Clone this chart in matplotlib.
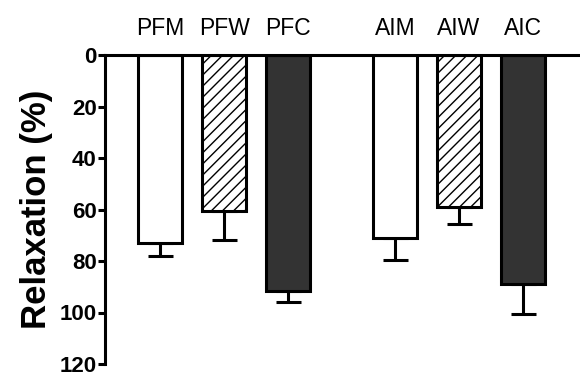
import numpy as np
import matplotlib
matplotlib.use('Agg')
from matplotlib import pyplot as plt

# relaxation values (%), downward bars with SEM
groups = ['PFM', 'PFW', 'PFC', 'AIM', 'AIW', 'AIC']
relax = [73, 60.5, 91.5, 71, 59, 89]
sem = [5, 11.5, 4.5, 8.5, 6.5, 11.5]
pos = [0, 1, 2, 3.67, 4.67, 5.67]
yticks = [0, 20, 40, 60, 80, 100, 120]

plt.rcParams['font.family'] = ['Liberation Sans', 'DejaVu Sans']
plt.rcParams['hatch.linewidth'] = 1.0

fig = plt.figure(figsize=(5.8, 3.77), dpi=100)
ax = fig.add_axes([105/580, 13/377, 475/580, 309/377])

fills = ['white', 'white', '#333333'] * 2
hatches = ['', '///', ''] * 2
for x, v, e, fc, h in zip(pos, relax, sem, fills, hatches):
    ax.bar(x, v, width=0.69, color=fc, edgecolor='black', linewidth=2.2,
           hatch=h, zorder=2)
    ax.errorbar(x, v, yerr=[[0], [e]], fmt='none', ecolor='black',
                elinewidth=2.2, capsize=9, capthick=2.2, zorder=1)

ax.set_ylim(120, 0)
ax.set_xlim(-0.86, 6.56)
ax.set_yticks(yticks)
ax.set_yticklabels([str(t) for t in yticks], fontsize=16, fontweight='bold')
ax.tick_params(axis='y', width=2.2, length=5, pad=1)

ax.xaxis.tick_top()
ax.set_xticks(pos)
ax.set_xticklabels(groups, fontsize=16.5)
ax.tick_params(axis='x', length=0, pad=11)

ax.spines['right'].set_visible(False)
ax.spines['bottom'].set_visible(False)
ax.spines['left'].set_linewidth(2.2)
ax.spines['top'].set_linewidth(2.2)

ax.set_ylabel('Relaxation (%)', fontsize=25, fontweight='bold', labelpad=5)

fig.savefig('out.png', dpi=100)
